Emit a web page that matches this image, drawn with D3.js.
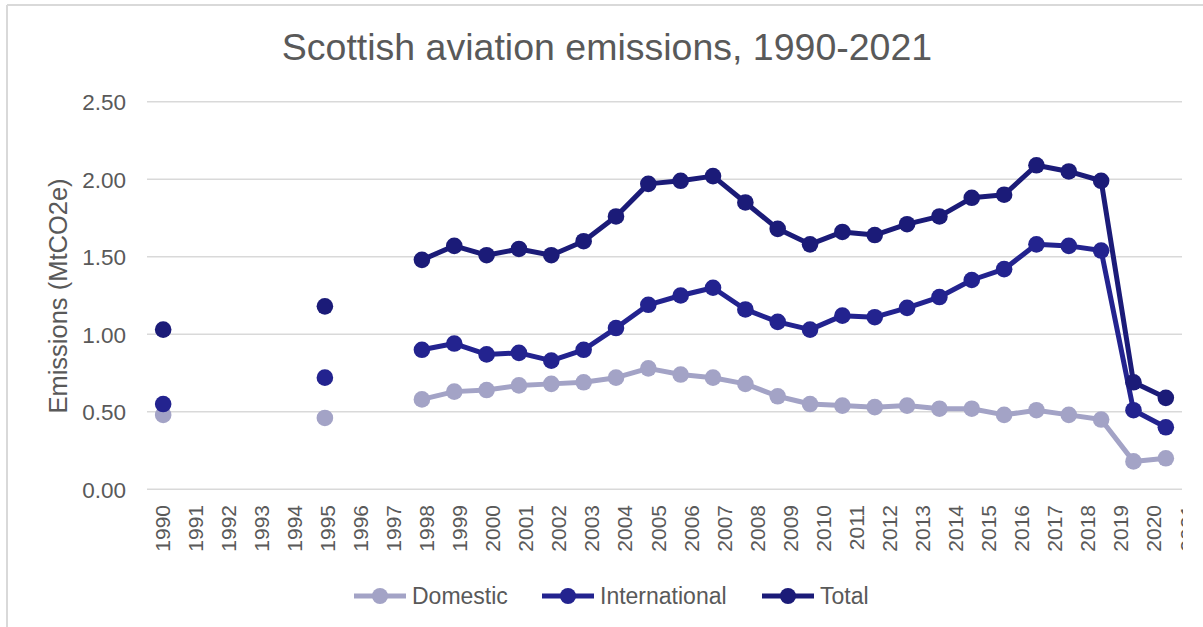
<!DOCTYPE html>
<html lang="en">

<head>
    <script src='https://d3js.org/d3.v7.min.js'></script>
    <style>
        body { margin: 0; background: #ffffff; }
        text { font-family: "Liberation Sans", Arial, sans-serif; fill: #595959; }
    </style>
</head>

<body>

    <script>
        // categories on the x axis
        const years = [1990, 1991, 1992, 1993, 1994, 1995, 1996, 1997, 1998, 1999,
            2000, 2001, 2002, 2003, 2004, 2005, 2006, 2007, 2008, 2009,
            2010, 2011, 2012, 2013, 2014, 2015, 2016, 2017, 2018, 2019,
            2020, 2021];

        // emissions in MtCO2e, null where there is no value
        const domestic = [0.48, null, null, null, null, 0.46, null, null, 0.58, 0.63,
            0.64, 0.67, 0.68, 0.69, 0.72, 0.78, 0.74, 0.72, 0.68, 0.60,
            0.55, 0.54, 0.53, 0.54, 0.52, 0.52, 0.48, 0.51, 0.48, 0.45,
            0.18, 0.20];

        const international = [0.55, null, null, null, null, 0.72, null, null, 0.90, 0.94,
            0.87, 0.88, 0.83, 0.90, 1.04, 1.19, 1.25, 1.30, 1.16, 1.08,
            1.03, 1.12, 1.11, 1.17, 1.24, 1.35, 1.42, 1.58, 1.57, 1.54,
            0.51, 0.40];

        const total = [1.03, null, null, null, null, 1.18, null, null, 1.48, 1.57,
            1.51, 1.55, 1.51, 1.60, 1.76, 1.97, 1.99, 2.02, 1.85, 1.68,
            1.58, 1.66, 1.64, 1.71, 1.76, 1.88, 1.90, 2.09, 2.05, 1.99,
            0.69, 0.59];

        const yTicks = [0, 0.5, 1, 1.5, 2, 2.5];

        const series = [
            {name: "Domestic", values: domestic, colour: "#a3a3c6"},
            {name: "International", values: international, colour: "#23238f"},
            {name: "Total", values: total, colour: "#1b1b78"}
        ];

        // overall size of the picture
        const W = 1203;
        const H = 627;

        // plot area
        const plot = {left: 147, right: 1182, top: 101.7, bottom: 489.3};

        var svg = d3.select('body')
            .append("svg")
            .attr("width", W)
            .attr("height", H);

        // chart border (only top and left show in the frame)
        svg.append("line")
            .attr("x1", 7).attr("x2", W).attr("y1", 5).attr("y2", 5)
            .attr("stroke", "#d9d9d9").attr("stroke-width", 2);
        svg.append("line")
            .attr("x1", 7).attr("x2", 7).attr("y1", 5).attr("y2", H)
            .attr("stroke", "#d9d9d9").attr("stroke-width", 2);

        // title
        svg.append("text")
            .attr("x", 607)
            .attr("y", 60)
            .attr("text-anchor", "middle")
            .style("font-size", "37.5px")
            .text("Scottish aviation emissions, 1990-2021");

        // X scale: points sit in the middle of each band
        var x = d3.scaleBand()
            .domain(years)
            .range([plot.left, plot.right]);

        // the year labels run on a slightly wider spacing than the points
        var xLabel = d3.scalePoint()
            .domain(years)
            .range([162, 1187]);

        // Y scale
        var y = d3.scaleLinear()
            .domain([0, 2.5])
            .range([plot.bottom, plot.top]);

        // gridlines
        svg.append("g")
            .selectAll("line")
            .data(yTicks)
            .join("line")
            .attr("x1", plot.left)
            .attr("x2", plot.right)
            .attr("y1", function(d) { return y(d); })
            .attr("y2", function(d) { return y(d); })
            .attr("stroke", "#d9d9d9")
            .attr("stroke-width", 1.5);

        // Y axis labels
        var yAxis = svg.append("g")
            .attr("transform", "translate(" + (plot.left - 21) + ",0)")
            .call(d3.axisLeft(y).tickValues(yTicks).tickSize(0).tickPadding(0)
                .tickFormat(d3.format(".2f")));
        yAxis.select(".domain").remove();
        yAxis.selectAll("text")
            .style("font-size", "22.5px")
            .style("font-family", "'Liberation Sans', Arial, sans-serif")
            .attr("fill", "#595959")
            .attr("dy", "0.36em");

        // Y axis title
        svg.append("text")
            .attr("transform", "translate(67," + 296 + ") rotate(-90)")
            .attr("text-anchor", "middle")
            .style("font-size", "25.5px")
            .text("Emissions (MtCO2e)");

        // X axis labels, clipped at the right edge like the original
        svg.append("clipPath")
            .attr("id", "xclip")
            .append("rect")
            .attr("x", 0).attr("y", 490)
            .attr("width", 1183).attr("height", 80);

        svg.append("g")
            .attr("clip-path", "url(#xclip)")
            .selectAll("text")
            .data(years)
            .join("text")
            .attr("transform", function(d) {
                return "translate(" + xLabel(d) + ",505) rotate(-90)";
            })
            .attr("text-anchor", "end")
            .attr("dy", "0.36em")
            .style("font-size", "21px")
            .text(function(d) { return d; });

        // lines and markers
        var line = d3.line()
            .defined(function(d) { return d.v != null; })
            .x(function(d) { return x(d.year) + x.bandwidth() / 2; })
            .y(function(d) { return y(d.v); });

        series.forEach(function(s) {
            var pts = years.map(function(yr, i) { return {year: yr, v: s.values[i]}; });

            svg.append("path")
                .datum(pts)
                .attr("fill", "none")
                .attr("stroke", s.colour)
                .attr("stroke-width", 5)
                .attr("stroke-linejoin", "round")
                .attr("d", line);

            svg.append("g")
                .selectAll("circle")
                .data(pts.filter(function(d) { return d.v != null; }))
                .join("circle")
                .attr("cx", function(d) { return x(d.year) + x.bandwidth() / 2; })
                .attr("cy", function(d) { return y(d.v); })
                .attr("r", 8.3)
                .attr("fill", s.colour);
        });

        // legend
        const legendX = [354, 542, 762];
        var legend = svg.append("g");
        series.forEach(function(s, i) {
            var g = legend.append("g")
                .attr("transform", "translate(" + legendX[i] + ",596)");
            g.append("line")
                .attr("x1", 0).attr("x2", 52)
                .attr("stroke", s.colour)
                .attr("stroke-width", 5);
            g.append("circle")
                .attr("cx", 26)
                .attr("r", 8)
                .attr("fill", s.colour);
            g.append("text")
                .attr("x", 58)
                .attr("dy", "0.36em")
                .style("font-size", "23px")
                .text(s.name);
        });
    </script>

</body>

</html>
